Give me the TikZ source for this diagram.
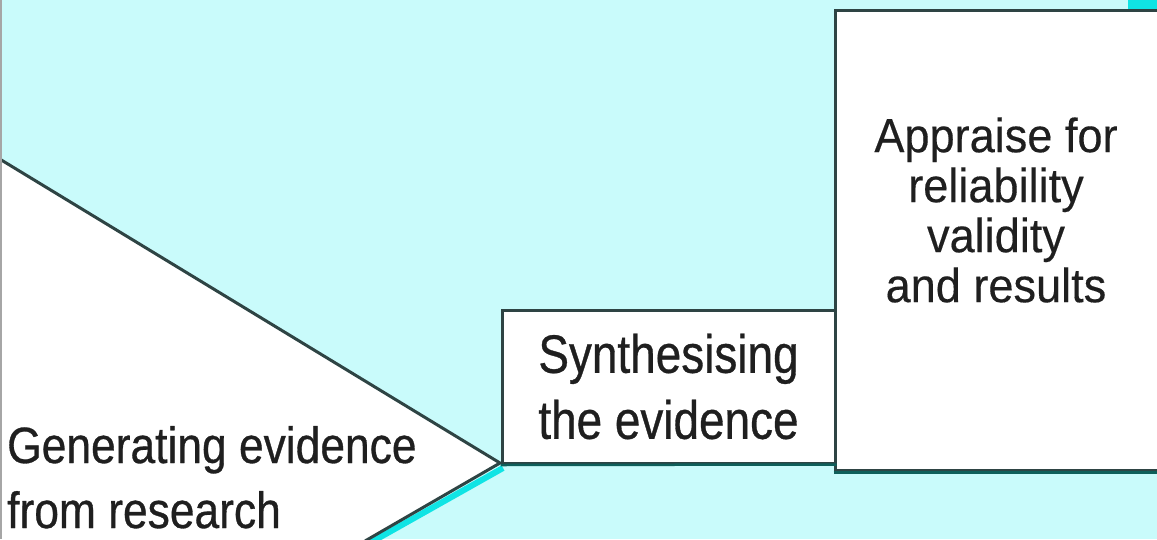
\documentclass[tikz,border=0pt]{standalone}
\usepackage{fontspec}
\setmainfont{Liberation Sans}
\newfontfamily\condA[FakeStretch=0.87,FakeBold=0.6]{Liberation Sans}
\newfontfamily\condB[FakeStretch=0.85,FakeBold=0.6]{Liberation Sans}
\newfontfamily\narA[FakeStretch=0.94,FakeBold=0.3]{Liberation Sans}
\definecolor{bgcyan}{HTML}{C9FBFB}
\definecolor{shcyan}{HTML}{10E4E4}
\definecolor{edge}{HTML}{2E4444}
\definecolor{tealdark}{HTML}{0E5F5A}
\tikzset{
  boxshape/.style={draw=edge, line width=3pt, fill=white, inner sep=0pt},
  lbl/.style={text=black!88, inner sep=0pt},
}
\begin{document}
\begin{tikzpicture}[x=1pt,y=-1pt]
\useasboundingbox (0,0) rectangle (1157,539);
\fill[bgcyan] (0,0) rectangle (1157,539);
% shadows
\draw[shcyan, line width=6pt] (503,468) -- (368,544);
\fill[shcyan] (1128,0) rectangle (1157,11);
% triangle
\coordinate (tl) at (-2,158);
\coordinate (tip) at (500,463);
\coordinate (bl) at (365,541);
\fill[white] (-2,158) -- (tip) -- (bl) -- (-2,541) -- cycle;
\draw[edge, line width=3pt] (tl) -- (tip) -- (bl);
% boxes
\node[boxshape, minimum width=333pt, minimum height=153pt] (synth) at (668.5,386.5) {};
\node[boxshape, minimum width=330pt, minimum height=460pt] (appr) at (1000,240) {};
\draw[tealdark, line width=3.5pt] (appr.south west) ++(0,1) -- ++(330,0);
\draw[tealdark, line width=2.5pt] (synth.south west) ++(0,0.5) -- (synth.south east);
% left frame line
\draw[gray!70, line width=1.5pt] (0.75,0) -- (0.75,539);
% texts
\node[lbl, anchor=base west, align=left, font={\condA\fontsize{51}{65}\selectfont}] (gen) at (7,528) {Generating evidence\\from research};
\node[lbl, anchor=center, align=center, font={\condB\fontsize{54}{66}\selectfont}] (synthtxt) at (synth.center) {Synthesising\\the evidence};
\node[lbl, anchor=center, align=center, font={\narA\fontsize{48}{50}\selectfont}] (apprtxt) at (996,210) {Appraise for\\reliability\\validity\\and results};
\end{tikzpicture}
\end{document}
